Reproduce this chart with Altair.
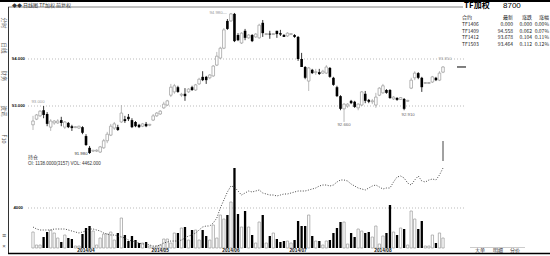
import altair as alt
import pandas as pd

# ---------------- data ----------------
opens = [
    92.60, 92.72, 92.79, 92.91, 92.83, 92.55, 92.64, 92.64, 92.70, 92.55,
    92.64, 92.57, 92.54, 92.53, 92.55, 92.36, 92.11, 92.04, 92.04, 92.02,
    92.11, 92.26, 92.38, 92.53, 92.55, 92.66, 92.72, 92.77, 92.70, 92.66,
    92.60, 92.57, 92.62, 92.59, 92.70, 92.79, 92.83, 92.96, 93.02, 93.23,
    93.30, 93.40, 93.23, 93.26, 93.30, 93.40, 93.34, 93.47, 93.62, 93.62,
    93.60, 93.64, 93.87, 94.02, 94.23, 94.81, 94.81, 94.96, 94.51, 94.34,
    94.60, 94.45, 94.51, 94.47, 94.45, 94.77, 94.52, 94.54, 94.52, 94.60,
    94.55, 94.51, 94.49, 94.52, 94.51, 94.47, 94.00, 93.83, 93.53, 93.77,
    93.71, 93.72, 93.70, 93.70, 93.81, 93.60, 93.40, 93.21, 92.94, 93.00,
    93.11, 93.09, 92.96, 93.02, 93.26, 93.13, 93.09, 93.02, 93.23, 93.28,
    93.34, 93.34, 93.15, 93.17, 93.14, 93.15, 93.10, 93.38, 93.60, 93.70,
    93.60, 93.48, 93.48, 93.51, 93.60, 93.55, 93.72]
highs = [
    92.79, 92.83, 92.91, 93.00, 92.87, 92.72, 92.70, 92.72, 92.77, 92.68,
    92.66, 92.60, 92.57, 92.58, 92.57, 92.40, 92.15, 92.06, 92.08, 92.15,
    92.30, 92.45, 92.62, 92.66, 92.60, 93.02, 92.79, 92.83, 92.74, 92.68,
    92.62, 92.64, 92.66, 92.62, 92.83, 92.87, 92.91, 93.09, 93.13, 93.47,
    93.47, 93.43, 93.28, 93.38, 93.38, 93.43, 93.47, 93.60, 93.74, 93.64,
    93.68, 93.87, 94.15, 94.26, 94.66, 94.85, 94.98, 94.98, 94.55, 94.57,
    94.64, 94.53, 94.53, 94.55, 94.75, 94.83, 94.55, 94.60, 94.55, 94.60,
    94.62, 94.53, 94.57, 94.55, 94.53, 94.49, 94.13, 93.85, 93.83, 93.79,
    93.79, 93.79, 93.77, 93.87, 93.83, 93.62, 93.43, 93.23, 93.06, 93.06,
    93.13, 93.11, 93.06, 93.32, 93.32, 93.15, 93.15, 93.28, 93.40, 93.47,
    93.36, 93.36, 93.21, 93.19, 93.19, 93.17, 93.13, 93.60, 93.74, 93.72,
    93.62, 93.51, 93.51, 93.64, 93.62, 93.74, 93.85]
lows = [
    92.49, 92.70, 92.77, 92.74, 92.57, 92.47, 92.60, 92.62, 92.57, 92.51,
    92.53, 92.47, 92.53, 92.51, 92.40, 92.15, 91.98, 92.02, 92.02, 92.00,
    92.09, 92.21, 92.36, 92.49, 92.47, 92.64, 92.64, 92.68, 92.53, 92.55,
    92.53, 92.55, 92.55, 92.57, 92.68, 92.77, 92.81, 92.94, 93.00, 93.19,
    93.26, 93.28, 93.19, 93.11, 93.28, 93.32, 93.32, 93.45, 93.53, 93.47,
    93.57, 93.62, 93.85, 94.00, 94.21, 94.62, 94.79, 94.36, 94.38, 94.32,
    94.40, 94.43, 94.36, 94.45, 94.43, 94.47, 94.51, 94.43, 94.51, 94.45,
    94.49, 94.47, 94.47, 94.51, 94.45, 93.96, 93.83, 93.57, 93.32, 93.68,
    93.66, 93.66, 93.68, 93.68, 93.60, 93.43, 93.19, 92.91, 92.66, 92.96,
    93.04, 92.96, 92.91, 93.00, 93.06, 93.06, 93.04, 92.96, 93.21, 93.26,
    93.26, 93.15, 93.13, 93.11, 93.13, 92.91, 93.09, 93.36, 93.55, 93.57,
    93.30, 93.47, 93.47, 93.49, 93.53, 93.53, 93.70]
closes = [
    92.68, 92.81, 92.89, 92.81, 92.62, 92.68, 92.68, 92.68, 92.64, 92.66,
    92.55, 92.53, 92.56, 92.57, 92.43, 92.17, 92.00, 92.06, 92.06, 92.13,
    92.26, 92.40, 92.57, 92.62, 92.49, 92.85, 92.68, 92.72, 92.55, 92.57,
    92.55, 92.62, 92.57, 92.61, 92.79, 92.85, 92.89, 93.04, 93.11, 93.40,
    93.43, 93.30, 93.25, 93.21, 93.36, 93.34, 93.45, 93.57, 93.55, 93.55,
    93.66, 93.85, 94.06, 94.23, 94.62, 94.64, 94.96, 94.38, 94.40, 94.55,
    94.45, 94.51, 94.38, 94.53, 94.72, 94.55, 94.54, 94.52, 94.54, 94.53,
    94.52, 94.47, 94.55, 94.54, 94.47, 94.00, 93.83, 93.60, 93.81, 93.70,
    93.73, 93.68, 93.74, 93.83, 93.62, 93.45, 93.21, 92.94, 93.04, 93.04,
    93.06, 92.98, 93.04, 93.30, 93.11, 93.09, 93.11, 93.19, 93.38, 93.43,
    93.28, 93.17, 93.19, 93.13, 93.18, 92.94, 93.12, 93.55, 93.70, 93.60,
    93.40, 93.50, 93.50, 93.62, 93.55, 93.70, 93.83]
volumes = [
    1600, 300, 300, 1100, 1600, 1800, 1500, 1000, 600, 1300,
    1000, 900, 200, 200, 1400, 2000, 2200, 1700, 300, 1000,
    1400, 1400, 1600, 800, 1500, 3000, 1300, 700, 1200, 800,
    500, 500, 600, 200, 100, 200, 300, 900, 900, 500,
    1500, 1500, 2000, 2100, 800, 1800, 1800, 800, 1800, 1200,
    800, 2300, 1000, 3300, 2900, 3300, 4600, 8000, 3400, 2100,
    3700, 2100, 1300, 500, 2600, 3300, 500, 1200, 1500, 900,
    600, 700, 700, 500, 800, 2700, 2200, 2200, 3300, 1200,
    700, 700, 300, 700, 800, 1500, 2000, 2600, 2600, 400,
    1500, 1100, 1900, 1700, 1500, 1600, 1100, 2200, 400, 1200,
    1500, 4300, 1600, 1300, 2000, 1900, 300, 3700, 2900, 1900,
    2700, 200, 200, 1300, 500, 1500, 1000]
open_interest = [
    5100, 4900, 4800, 4800, 4800, 4800, 4900, 4900, 4900, 4900,
    4800, 4700, 4600, 4500, 4600, 4700, 4900, 4900, 4800, 4700,
    4500, 4400, 4300, 4300, 4200, 4100, 4000, 3800, 3700, 3600,
    3500, 3400, 3400, 3300, 3200, 3200, 3300, 3500, 3600, 3700,
    3700, 3700, 3800, 4000, 4200, 4300, 4500, 4800, 5100, 5200,
    5200, 5500, 6000, 7000, 7800, 8600, 9200, 9100, 8700, 8300,
    8500, 8700, 8600, 8700, 8800, 8500, 8400, 8300, 8300, 8200,
    8300, 8400, 8400, 8500, 8600, 8700, 8700, 8700, 8800, 8900,
    9000, 9200, 9300, 9300, 9200, 9300, 9600, 9800, 9800, 9700,
    9400, 9200, 9000, 8900, 8800, 9000, 9200, 9300, 9100, 8900,
    9000, 9000, 9600, 10100, 10200, 10000, 9500, 9300, 9800, 10200,
    9700, 9600, 9800, 9900, 9800, 10300, 11000]
oi_spike = [11700, 13700]

month_labels = ["2014/04", "2014/05", "2014/06", "2014/07", "2014/08"]
month_index = [15, 36, 56, 75, 99]
price_grid = [93.0, 94.0]
vol_grid = [4000]

contract_names = ["TF1406", "TF1409", "TF1412", "TF1503"]
last_prices = ["0.000", "94.558", "93.678", "93.464"]
changes = ["0.000", "0.062", "0.104", "0.112"]
pct_changes = ["0.00%", "0.07%", "0.11%", "0.12%"]

# extreme-value annotations: candle index, price, text
ext_index = [3, 16, 56, 88, 105, 116]
ext_price = [93.00, 91.98, 94.98, 92.66, 92.91, 93.85]
ext_text = ["93.000", "91.980", "94.980—", "92.660", "92.910", "93.850"]

FONT = "Liberation Sans"
CJK = "Noto Sans CJK SC"

N = len(opens)
df = pd.DataFrame({"i": list(range(N)), "open": opens, "high": highs,
                   "low": lows, "close": closes, "vol": volumes,
                   "oi": open_interest})

X = alt.X("i:Q", scale=alt.Scale(domain=[0, N - 1], range=[28, 448],
                                 nice=False, zero=False), axis=None)
PS = alt.Scale(domain=[93, 94], range=[106, 59], nice=False, zero=False)
VS = alt.Scale(domain=[0, 4000], range=[248, 208], nice=False, zero=False)
OS = alt.Scale(domain=[3000, 7000], range=[248, 208], nice=False, zero=False)
RS = alt.Scale(domain=[0, 4], range=[17, 44], nice=False, zero=False)

one = pd.DataFrame({"k": [0]})
layers = []


def hline(x1, x2, y, color, width=1.0, dash=None):
    kw = dict(color=color, strokeWidth=width)
    if dash:
        kw["strokeDash"] = dash
    return alt.Chart(one).mark_rule(**kw).encode(
        x=alt.value(x1), x2=alt.value(x2), y=alt.value(y))


def vline(x, y1, y2, color, width=1.0):
    return alt.Chart(one).mark_rule(color=color, strokeWidth=width).encode(
        x=alt.value(x), y=alt.value(y1), y2=alt.value(y2))


def label(text, x, y, size=5, color="#000", align="left", weight="normal",
          font=FONT, angle=0):
    kw = dict(text=text, fontSize=size, color=color, align=align,
              baseline="middle", fontWeight=weight, font=font)
    if angle:
        kw["angle"] = angle
    return alt.Chart(one).mark_text(**kw).encode(x=alt.value(x), y=alt.value(y))


# frame
layers += [
    hline(0, 550, 1, "#000", 2.2),
    hline(8, 463, 7, "#777", 0.9),
    vline(8.5, 7, 254, "#333", 1.0),
    hline(8, 550, 253.5, "#000", 1.5),
]

# left vertical tabs
for txt, yy in [("分时", 23), ("日线", 48), ("财务", 76), ("资讯", 111), ("F10", 139)]:
    layers.append(label(txt, 4, yy, size=5.5, color="#555", align="center",
                        font=CJK, angle=90))
layers.append(label("≡", 4, 236, size=7, color="#333", align="center"))
layers.append(label("×", 4, 246, size=6, color="#555", align="center"))

# header
layers.append(label("◆◆ 日线图   TF加权 前复权", 12, 4.5, size=5, color="#333", font=CJK))

# price gridlines + labels
pg = alt.Chart(pd.DataFrame({"p": price_grid}))
layers.append(pg.mark_rule(color="#aaa", strokeDash=[1, 2], strokeWidth=0.8).encode(
    x=alt.value(28), x2=alt.value(465), y=alt.Y("p:Q", scale=PS, axis=None)))
layers.append(pg.mark_text(align="right", baseline="middle", fontSize=4.3,
                           fontWeight="bold", font=FONT, color="#111").encode(
    x=alt.value(25), y=alt.Y("p:Q", scale=PS, axis=None),
    text=alt.Text("p:Q", format=".3f")))

# volume gridline + label
vg = alt.Chart(pd.DataFrame({"v": vol_grid}))
layers.append(vg.mark_rule(color="#aaa", strokeDash=[1, 2], strokeWidth=0.8).encode(
    x=alt.value(28), x2=alt.value(465), y=alt.Y("v:Q", scale=VS, axis=None)))
layers.append(vg.mark_text(align="right", baseline="middle", fontSize=4.3,
                           fontWeight="bold", font=FONT, color="#111").encode(
    x=alt.value(23), y=alt.Y("v:Q", scale=VS, axis=None), text=alt.Text("v:Q", format="d")))

base = alt.Chart(df)
up = base.transform_filter("datum.close >= datum.open")
dn = base.transform_filter("datum.close < datum.open")

# volume bars
layers.append(up.mark_bar(size=2.3, fill="white", stroke="#999", strokeWidth=0.7).encode(
    x=X, y=alt.Y("vol:Q", scale=VS, axis=None), y2=alt.datum(0)))
layers.append(dn.mark_bar(size=2.3, color="#000").encode(
    x=X, y=alt.Y("vol:Q", scale=VS, axis=None), y2=alt.datum(0)))

# open interest dotted line
layers.append(base.mark_line(color="#333", strokeWidth=0.9, strokeDash=[1, 1.6]).encode(
    x=X, y=alt.Y("oi:Q", scale=OS, axis=None)))
layers.append(alt.Chart(pd.DataFrame({"i": [N - 1], "a": [oi_spike[0]], "b": [oi_spike[1]]}))
              .mark_rule(color="#444", strokeWidth=1).encode(
    x=X, y=alt.Y("a:Q", scale=OS, axis=None), y2="b:Q"))

# candles
layers.append(up.mark_rule(color="#a8a8a8", strokeWidth=0.8).encode(
    x=X, y=alt.Y("low:Q", scale=PS, axis=None), y2="high:Q"))
layers.append(dn.mark_rule(color="#000", strokeWidth=0.8).encode(
    x=X, y=alt.Y("low:Q", scale=PS, axis=None), y2="high:Q"))
layers.append(up.mark_bar(size=2.6, fill="white", stroke="#9a9a9a", strokeWidth=0.7).encode(
    x=X, y=alt.Y("open:Q", scale=PS, axis=None), y2="close:Q"))
layers.append(dn.mark_bar(size=2.6, color="#000").encode(
    x=X, y=alt.Y("open:Q", scale=PS, axis=None), y2="close:Q"))

# current price marker
layers.append(alt.Chart(pd.DataFrame({"p": [closes[-1]]})).mark_rule(color="#000", strokeWidth=1).encode(
    x=alt.value(457), x2=alt.value(466), y=alt.Y("p:Q", scale=PS, axis=None)))

# extreme annotations
ext_style = [
    dict(align="right", dx=1, dy=-4, color="#999"),
    dict(align="right", dx=-2, dy=0, color="#333"),
    dict(align="right", dx=-4, dy=0, color="#999"),
    dict(align="center", dx=0, dy=3, color="#666"),
    dict(align="center", dx=4, dy=5, color="#666"),
    dict(align="center", dx=2, dy=-7, color="#999"),
]
for k in range(len(ext_index)):
    st = ext_style[k]
    d = pd.DataFrame({"i": [ext_index[k]], "p": [ext_price[k]], "t": [ext_text[k]]})
    layers.append(alt.Chart(d).mark_text(
        align=st["align"], baseline="middle", dx=st["dx"], dy=st["dy"],
        fontSize=4.3, font=FONT, color=st["color"]).encode(
        x=X, y=alt.Y("p:Q", scale=PS, axis=None), text="t:N"))

# volume panel header
layers.append(label("持仓", 28, 157, size=5, color="#333", font=CJK))
layers.append(label("OI: 1138.0000(3157)    VOL: 4462.000", 28, 164, size=4.5, color="#333"))

# month labels
layers.append(alt.Chart(pd.DataFrame({"i": month_index, "t": month_labels})).mark_text(
    baseline="middle", fontSize=4.8, fontWeight="bold", font=FONT, color="#111").encode(
    x=X, y=alt.value(250.5), text="t:N"))

# right info panel
layers.append(label("TF加权", 464, 6, size=8, color="#000", weight="bold", font=CJK))
layers.append(label("8700", 503, 6, size=8, color="#000"))

cols = [
    (["合约"] + contract_names, 462, "left"),
    (["最新"] + last_prices, 513, "right"),
    (["涨跌"] + changes, 532, "right"),
    (["涨幅"] + pct_changes, 549, "right"),
]
for texts, xx, al in cols:
    d = pd.DataFrame({"r": list(range(len(texts))), "t": texts})
    layers.append(alt.Chart(d).mark_text(align=al, baseline="middle", fontSize=5,
                                         font=CJK, color="#222").encode(
        x=alt.value(xx), y=alt.Y("r:Q", scale=RS, axis=None), text="t:N"))

# bottom tabs
for txt, xx in [("大单", 480), ("明细", 498), ("分价", 515)]:
    layers.append(label(txt, xx, 250, size=5, color="#333", align="center", font=CJK))
layers.append(hline(470, 525, 247.5, "#aaa", 0.6))

chart = alt.layer(*layers).resolve_scale(y="independent").properties(
    width=550, height=256, padding=0, autosize="none", background="white"
).configure_view(stroke=None)

chart.save("out.html", embed_options={"renderer": "svg", "actions": False})
